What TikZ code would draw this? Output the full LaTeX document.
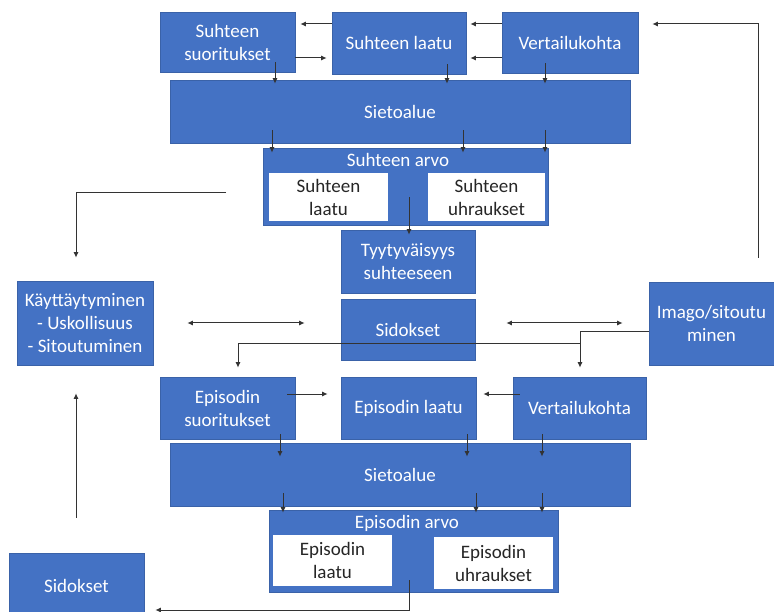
\documentclass[tikz,border=0pt]{standalone}
\usepackage{fontspec}
\setmainfont{Carlito}
\usetikzlibrary{arrows.meta}
\definecolor{boxblue}{HTML}{4472C4}
\definecolor{boxline}{HTML}{3A62A8}
\definecolor{lineg}{HTML}{333333}
\tikzset{
  txt/.style={font=\fontsize{19}{23}\selectfont},
  bbox/.style={txt, fill=boxblue, draw=boxline, line width=0.6pt, text=white, align=center, inner sep=2pt},
  wbox/.style={txt, fill=white, draw=none, text=black!85, align=center, inner sep=2pt},
  ttl/.style={txt, text=white, inner sep=1pt},
  arr/.style={draw=lineg, line width=1pt, -{Latex[length=5.5pt,width=5pt]}},
  arrtwo/.style={draw=lineg, line width=1pt, {Latex[length=5.5pt,width=5pt]}-{Latex[length=5.5pt,width=5pt]}},
}
\begin{document}
\begin{tikzpicture}[x=1pt,y=-1pt]
\useasboundingbox (0,0) rectangle (774,612);
\clip (0,0) rectangle (774,612);
\fill[white] (0,0) rectangle (774,612);

% helper coordinates
\coordinate (y24) at (0,24);
\coordinate (y58) at (0,58);
\coordinate (y332) at (0,332);
\coordinate (y394) at (0,394);
\coordinate (y610) at (0,610);
\coordinate (x76) at (76,0);
\coordinate (x238) at (238,0);
\coordinate (x272) at (272,0);
\coordinate (x275) at (275,0);
\coordinate (x280) at (280,0);
\coordinate (x283) at (283,0);
\coordinate (x409) at (409,0);
\coordinate (x447) at (447,0);
\coordinate (x463) at (463,0);
\coordinate (x467) at (467,0);
\coordinate (x476) at (476,0);
\coordinate (x542) at (542,0);
\coordinate (x545) at (545,0);
\coordinate (x580) at (580,0);
\coordinate (x758) at (758,0);

% relationship level
\node[bbox, minimum width=135pt, minimum height=60pt] (ss) at (227.5,42) {Suhteen\\suoritukset};
\node[bbox, minimum width=134pt, minimum height=62pt] (sl) at (399,43) {Suhteen laatu};
\node[bbox, minimum width=136pt, minimum height=61pt] (sv) at (570,42.5) {Vertailukohta};
\node[bbox, minimum width=460pt, minimum height=63pt] (st1) at (400,111.5) {Sietoalue};
\node[bbox, minimum width=285pt, minimum height=77pt] (sa) at (405.5,186.5) {};
\node[ttl] (saT) at (398,160) {Suhteen arvo};
\node[wbox, minimum width=119pt, minimum height=48pt] (sa1) at (328.5,197) {Suhteen\\laatu};
\node[wbox, minimum width=117pt, minimum height=48pt] (sa2) at (486.5,197) {Suhteen\\uhraukset};
\node[bbox, minimum width=134pt, minimum height=63pt] (ty) at (408,261.5) {Tyytyväisyys\\suhteeseen};
\node[bbox, minimum width=134pt, minimum height=61pt] (sid) at (408,329.5) {Sidokset};
\node[bbox, minimum width=136pt, minimum height=84pt] (kay) at (85,323) {Käyttäytyminen\\- Uskollisuus\\- Sitoutuminen};
\node[bbox, minimum width=125pt, minimum height=83pt] (im) at (711.5,323.5) {Imago/sitoutu\\minen};

% episode level
\node[bbox, minimum width=135pt, minimum height=62pt] (es) at (227.5,408) {Episodin\\suoritukset};
\node[bbox, minimum width=135pt, minimum height=62pt] (el) at (408.5,408) {Episodin laatu};
\node[bbox, minimum width=133pt, minimum height=62pt] (ev) at (579.5,408) {Vertailukohta};
\node[bbox, minimum width=460pt, minimum height=63pt] (st2) at (400,474.5) {Sietoalue};
\node[bbox, minimum width=289pt, minimum height=82pt] (ea) at (413.5,551) {};
\node[ttl] (eaT) at (407,523) {Episodin arvo};
\node[wbox, minimum width=119pt, minimum height=51pt] (ea1) at (332.5,560.5) {Episodin\\laatu};
\node[wbox, minimum width=119pt, minimum height=52pt] (ea2) at (493.5,563) {Episodin\\uhraukset};
\node[bbox, minimum width=135pt, minimum height=66pt] (sid2) at (76.5,586) {Sidokset};

% top connectors
\draw[arr, shorten >=5pt] (sl.west |- y24) -- (ss.east |- y24);
\draw[arr, shorten >=5pt] (ss.east |- y58) -- (sl.west |- y58);
\draw[arr, shorten >=4pt] (sv.west |- y24) -- (sl.east |- y24);
\draw[arr, shorten >=4pt] (sv.west |- y58) -- (sl.east |- y58);
\draw[arr, shorten <=24pt, shorten >=14pt] (im.north -| x758) |- (sv.east |- y24);

\draw[arr, shorten <=-10pt, shorten >=-4pt] (ss.south -| x275) -- (st1.north -| x275);
\draw[arr, shorten <=-10pt, shorten >=-4pt] (sl.south -| x447) -- (st1.north -| x447);
\draw[arr, shorten <=-10pt, shorten >=-4pt] (sv.south -| x545) -- (st1.north -| x545);

\draw[arr, shorten <=-13pt, shorten >=-5pt] (st1.south -| x272) -- (sa.north -| x272);
\draw[arr, shorten <=-13pt, shorten >=-5pt] (st1.south -| x463) -- (sa.north -| x463);
\draw[arr, shorten <=-13pt, shorten >=-5pt] (st1.south -| x545) -- (sa.north -| x545);

\draw[arr, shorten <=-28pt, shorten >=-5pt] (sa.south -| x409) -- (ty.north -| x409);

\coordinate (lstart) at (226,193);
\draw[arr, shorten >=23pt] (lstart) -| (kay.north -| x76);

\draw[arrtwo, shorten <=34pt, shorten >=36pt] (kay.east) -- (sid.west |- kay.east);
\draw[arrtwo, shorten <=31pt, shorten >=26pt] (sid.east |- kay.east) -- (im.west |- kay.east);

\draw[arr, shorten >=9pt] (im.west |- y332) -| (ev.north -| x580);
\coordinate (br) at (580,344);
\draw[arr, shorten >=9pt] (br) -| (es.north -| x238);

% episode connectors
\draw[arr, shorten <=-8pt, shorten >=13pt] (es.east |- y394) -- (el.west |- y394);
\draw[arr, shorten <=-7pt, shorten >=7pt] (ev.west |- y394) -- (el.east |- y394);

\draw[arr, shorten <=-5pt, shorten >=-14pt] (es.south -| x280) -- (st2.north -| x280);
\draw[arr, shorten <=-5pt, shorten >=-14pt] (el.south -| x467) -- (st2.north -| x467);
\draw[arr, shorten <=-5pt, shorten >=-14pt] (ev.south -| x542) -- (st2.north -| x542);

\draw[arr, shorten <=-13pt, shorten >=-3pt] (st2.south -| x283) -- (ea.north -| x283);
\draw[arr, shorten <=-13pt, shorten >=-3pt] (st2.south -| x476) -- (ea.north -| x476);
\draw[arr, shorten <=-13pt, shorten >=-3pt] (st2.south -| x542) -- (ea.north -| x542);

\coordinate (estart) at (409,580);
\draw[arr, shorten >=11pt] (estart) |- (sid2.east |- y610);

\draw[arr, shorten <=35pt, shorten >=28pt] (sid2.north -| x76) -- (kay.south -| x76);
\end{tikzpicture}
\end{document}
